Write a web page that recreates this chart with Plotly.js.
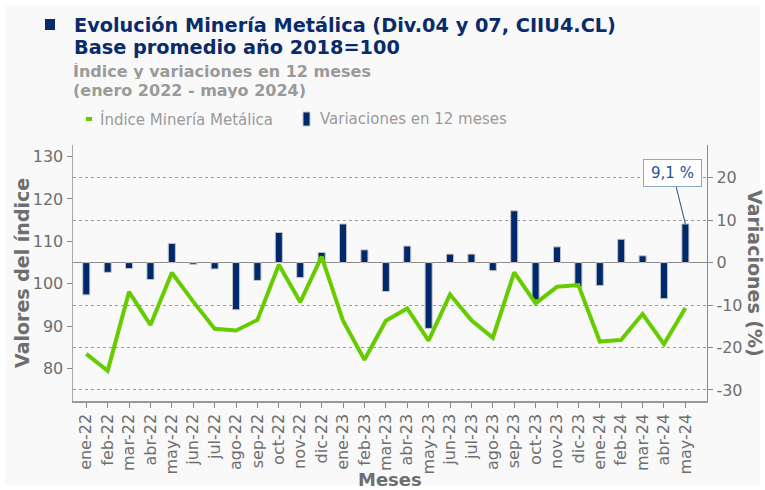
<!DOCTYPE html>
<html>
<head>
<meta charset="utf-8">
<script src="https://cdn.plot.ly/plotly-3.0.1.min.js"></script>
<style>
  html, body { margin: 0; padding: 0; background: #ffffff; }
  #chart { width: 765px; height: 490px; }
</style>
</head>
<body>
<div id="chart"></div>
<script>
// ---- Data ----
const months = ['ene-22','feb-22','mar-22','abr-22','may-22','jun-22','jul-22','ago-22','sep-22','oct-22','nov-22','dic-22',
                'ene-23','feb-23','mar-23','abr-23','may-23','jun-23','jul-23','ago-23','sep-23','oct-23','nov-23','dic-23',
                'ene-24','feb-24','mar-24','abr-24','may-24'];
const indice = [83.5, 79.5, 98.1, 90.3, 102.6, 95.8, 89.4, 89.0, 91.5, 104.5, 95.7, 106.4,
                91.3, 82.1, 91.3, 94.2, 86.6, 97.5, 91.4, 87.3, 102.7, 95.4, 99.3, 99.7,
                86.4, 86.8, 92.9, 85.8, 94.3];
const variaciones = [-7.6, -2.3, -1.4, -4.0, 4.5, -0.4, -1.5, -11.1, -4.2, 7.1, -3.5, 2.4,
                     9.1, 3.0, -6.8, 3.9, -15.5, 2.0, 2.0, -1.9, 12.2, -8.8, 3.7, -5.8,
                     -5.4, 5.5, 1.6, -8.5, 9.1];
const leftTicks = [80, 90, 100, 110, 120, 130];
const rightTickVals = [-30, -20, -10, 0, 10, 20];
const rightTickText = ['-30', '-20', '-10', '0', '10', '20'];

const titleLine1 = 'Evolución Minería Metálica (Div.04 y 07, CIIU4.CL)';
const titleLine2 = 'Base promedio año 2018=100';
const subLine1 = 'Índice y variaciones en 12 meses';
const subLine2 = '(enero 2022 - mayo 2024)';
const nameIndice = 'Índice Minería Metálica';
const nameVar = 'Variaciones en 12 meses';

// ---- Layout helpers (page pixel -> paper coords) ----
const L = 73, T = 145, W = 634, H = 256;
const px = X => (X - L) / W;
const py = Y => (T + H - Y) / H;

const FONT = 'DejaVu Sans';
const NAVY = '#0a2b6b';
const BAR = '#00286c';
const GREEN = '#66cc00';
const GRAYTXT = '#6e6e6e';
const LIGHTTXT = '#9a9a9a';

const lastIdx = variaciones.length - 1;
const lastLabel = variaciones[lastIdx].toFixed(1).replace('.', ',') + ' %';

const traces = [
  {
    type: 'bar',
    x: months,
    y: variaciones,
    yaxis: 'y',
    name: nameVar,
    width: 0.33,
    marker: { color: BAR, line: { color: '#c4c4c4', width: 1 } },
    showlegend: false,
    hoverinfo: 'x+y'
  },
  {
    type: 'scatter',
    mode: 'lines',
    x: months,
    y: indice,
    yaxis: 'y2',
    name: nameIndice,
    line: { color: GREEN, width: 4 },
    showlegend: false
  }
];

const ann = (text, X, Y, opts) => Object.assign({
  text: text, xref: 'paper', yref: 'paper', x: px(X), y: py(Y),
  showarrow: false, xanchor: 'left', yanchor: 'middle'
}, opts);

const layout = {
  width: 765, height: 490,
  paper_bgcolor: '#f9f9f9',
  plot_bgcolor: 'rgba(0,0,0,0)',
  margin: { l: L, r: 765 - L - W, t: T, b: 490 - T - H },
  showlegend: false,
  bargap: 0,
  font: { family: FONT, color: GRAYTXT },
  xaxis: {
    type: 'category',
    range: [-0.62, 29.01],
    tickangle: -90,
    tickfont: { family: FONT, size: 16, color: GRAYTXT },
    ticks: 'outside', ticklen: 5, tickcolor: '#888', tickwidth: 1,
    showline: true, linecolor: '#9a9a9a', linewidth: 1.5,
    showgrid: false, zeroline: false, fixedrange: true
  },
  yaxis: {
    side: 'right',
    range: [-32.6, 27.7],
    tickmode: 'array', tickvals: rightTickVals, ticktext: rightTickText,
    tickfont: { family: FONT, size: 16, color: GRAYTXT },
    ticks: 'outside', ticklen: 5, tickcolor: '#888', tickwidth: 1,
    showline: true, linecolor: '#8a8a8a', linewidth: 1.2,
    showgrid: true, gridcolor: '#9a9a9a', gridwidth: 1, griddash: 'dot',
    zeroline: true, zerolinecolor: '#8c8c8c', zerolinewidth: 1.5,
    fixedrange: true
  },
  yaxis2: {
    overlaying: 'y', side: 'left',
    range: [72.4, 132.7],
    tickmode: 'array', tickvals: leftTicks,
    tickfont: { family: FONT, size: 16, color: GRAYTXT },
    ticks: 'outside', ticklen: 5, tickcolor: '#888', tickwidth: 1,
    showline: true, linecolor: '#a8a8a8', linewidth: 1.5,
    showgrid: false, zeroline: false, fixedrange: true
  },
  shapes: [
    // white outer frame
    { type: 'rect', xref: 'paper', yref: 'paper', layer: 'below',
      x0: px(2.5), x1: px(762.5), y0: py(487.5), y1: py(2.5),
      line: { color: '#ffffff', width: 5 }, fillcolor: 'rgba(0,0,0,0)' },
    // title square
    { type: 'rect', xref: 'paper', yref: 'paper',
      x0: px(45), x1: px(55), y0: py(30), y1: py(19),
      line: { width: 0 }, fillcolor: NAVY },
    // legend symbols
    { type: 'rect', xref: 'paper', yref: 'paper',
      x0: px(86), x1: px(92), y0: py(121), y1: py(117),
      line: { width: 0 }, fillcolor: GREEN },
    { type: 'rect', xref: 'paper', yref: 'paper',
      x0: px(303), x1: px(310), y0: py(126), y1: py(112),
      line: { width: 1, color: '#c4c4c4' }, fillcolor: BAR }
  ],
  annotations: [
    ann(titleLine1, 72, 25, { font: { family: FONT, size: 19.3, color: NAVY, weight: 'bold' } }),
    ann(titleLine2, 72, 47, { font: { family: FONT, size: 19.3, color: NAVY, weight: 'bold' } }),
    ann(subLine1, 72, 71, { height: 16, borderpad: 0, font: { family: FONT, size: 16, color: LIGHTTXT, weight: 'bold' } }),
    ann(subLine2, 72, 89.7, { height: 16, borderpad: 0, font: { family: FONT, size: 16, color: LIGHTTXT, weight: 'bold' } }),
    ann(nameIndice, 98, 119, { font: { family: FONT, size: 15, color: LIGHTTXT } }),
    ann(nameVar, 318, 119, { font: { family: FONT, size: 15, color: LIGHTTXT } }),
    ann('Valores del índice', 22, 273, { xanchor: 'center', textangle: -90,
      font: { family: FONT, size: 19, color: GRAYTXT, weight: 'bold' } }),
    ann('Variaciones (%)', 755, 273, { xanchor: 'center', textangle: 90, height: 19, borderpad: 0,
      font: { family: FONT, size: 19, color: GRAYTXT, weight: 'bold' } }),
    ann('Meses', 390, 479.5, { xanchor: 'center', height: 15, borderpad: 0,
      font: { family: FONT, size: 18, color: GRAYTXT, weight: 'bold' } }),
    {
      text: lastLabel, xref: 'x', yref: 'y',
      x: months[lastIdx], y: variaciones[lastIdx],
      showarrow: true, arrowhead: 0, arrowwidth: 1, arrowcolor: '#1f4e8c',
      ax: -12.5, ay: -50.5, standoff: 0,
      width: 50, height: 19, borderpad: 3.5,
      bgcolor: '#ffffff', bordercolor: '#8aa6c9', borderwidth: 1,
      font: { family: FONT, size: 15, color: '#245495' }
    }
  ]
};

Plotly.newPlot('chart', traces, layout, { displayModeBar: false, staticPlot: true });
</script>
</body>
</html>
